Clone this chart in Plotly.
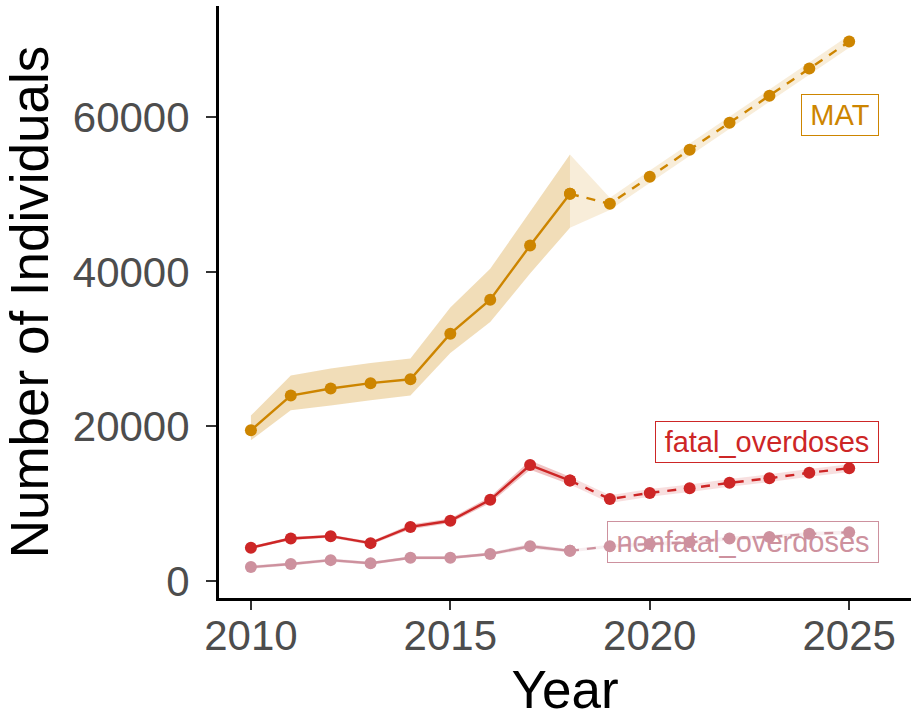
import plotly.graph_objects as go

# --- data ---
hist_years = [2010, 2011, 2012, 2013, 2014, 2015, 2016, 2017, 2018]
fc_years = [2018, 2019, 2020, 2021, 2022, 2023, 2024, 2025]

mat_hist = [19500, 24000, 24900, 25600, 26100, 32000, 36400, 43400, 50100]
mat_hist_lo = [18200, 22100, 22700, 23400, 24000, 29500, 33500, 39800, 45700]
mat_hist_hi = [21400, 26600, 27500, 28200, 28800, 35400, 40400, 47800, 55200]
mat_fc = [50100, 48800, 52300, 55800, 59300, 62800, 66300, 69800]
mat_fc_lo = [45700, 48000, 51500, 55000, 58500, 62000, 65500, 69000]
mat_fc_hi = [55200, 49600, 53100, 56600, 60100, 63600, 67100, 70600]

fatal_hist = [4300, 5500, 5800, 4900, 7000, 7800, 10500, 15000, 13000]
fatal_hist_lo = [4100, 5300, 5600, 4700, 6700, 7500, 10100, 14400, 12500]
fatal_hist_hi = [4500, 5700, 6000, 5100, 7300, 8100, 10900, 15600, 13500]
fatal_fc = [13000, 10600, 11400, 12000, 12700, 13300, 14000, 14600]
fatal_fc_lo = [12500, 10100, 10900, 11500, 12200, 12800, 13500, 14100]
fatal_fc_hi = [13500, 11100, 11900, 12500, 13200, 13800, 14500, 15100]

nonfatal_hist = [1800, 2200, 2700, 2300, 3000, 3000, 3500, 4500, 3900]
nonfatal_hist_lo = [1600, 2000, 2500, 2100, 2800, 2800, 3300, 4200, 3700]
nonfatal_hist_hi = [2000, 2400, 2900, 2500, 3200, 3200, 3700, 4800, 4100]
nonfatal_fc = [3900, 4500, 4800, 5000, 5500, 5700, 6100, 6300]
nonfatal_fc_lo = [3700, 4300, 4550, 4750, 5250, 5450, 5850, 6050]
nonfatal_fc_hi = [4100, 4700, 5050, 5250, 5750, 5950, 6350, 6550]

# name, colour, rgb, label y, label box width
series = [
    ("MAT", "#CD8500", (205, 133, 0), 60300, 68,
     mat_hist, mat_hist_lo, mat_hist_hi, mat_fc, mat_fc_lo, mat_fc_hi),
    ("fatal_overdoses", "#CD2626", (205, 38, 38), 17950, 214,
     fatal_hist, fatal_hist_lo, fatal_hist_hi, fatal_fc, fatal_fc_lo, fatal_fc_hi),
    ("nonfatal_overdoses", "#CD919E", (205, 145, 158), 5050, 262,
     nonfatal_hist, nonfatal_hist_lo, nonfatal_hist_hi, nonfatal_fc, nonfatal_fc_lo, nonfatal_fc_hi),
]

FONT = "Liberation Sans, Arial, sans-serif"

fig = go.Figure()

# ribbons first
for name, col, rgb, _, _, h, hlo, hhi, f, flo, fhi in series:
    fig.add_trace(go.Scatter(
        x=hist_years + hist_years[::-1], y=hhi + hlo[::-1],
        fill="toself", fillcolor=f"rgba({rgb[0]},{rgb[1]},{rgb[2]},0.28)",
        line=dict(width=0), mode="lines", hoverinfo="skip", showlegend=False))
    fig.add_trace(go.Scatter(
        x=fc_years + fc_years[::-1], y=fhi + flo[::-1],
        fill="toself", fillcolor=f"rgba({rgb[0]},{rgb[1]},{rgb[2]},0.15)",
        line=dict(width=0), mode="lines", hoverinfo="skip", showlegend=False))

# lines and points
for name, col, rgb, _, _, h, hlo, hhi, f, flo, fhi in series:
    fig.add_trace(go.Scatter(
        x=hist_years, y=h, mode="lines+markers", name=name,
        line=dict(color=col, width=2.4),
        marker=dict(color=col, size=12), showlegend=False))
    fig.add_trace(go.Scatter(
        x=fc_years, y=f, mode="lines+markers", name=name + " forecast",
        line=dict(color=col, width=2.4, dash="9px,8px"),
        marker=dict(color=col, size=12), showlegend=False))

# labels
for name, col, rgb, ylab, w, *_ in series:
    fig.add_annotation(
        x=2025.75, y=ylab, xref="x", yref="y", text=name, showarrow=False,
        xanchor="right", yanchor="middle", width=w, align="center",
        font=dict(family=FONT, size=29, color=col),
        bgcolor="rgba(255,255,255,0)", bordercolor=col, borderwidth=1,
        borderpad=4)

fig.update_layout(
    width=911, height=719,
    margin=dict(l=219, r=0, t=6, b=121),
    plot_bgcolor="white", paper_bgcolor="white",
    font=dict(family=FONT),
    showlegend=False,
)

fig.update_xaxes(
    range=[2009.2, 2026.55], tickvals=[2010, 2015, 2020, 2025],
    showgrid=False, zeroline=False,
    showline=True, linecolor="black", linewidth=3,
    ticks="outside", ticklen=9, tickwidth=2, tickcolor="#333333",
    ticklabelstandoff=-10,
    tickfont=dict(family=FONT, size=42, color="#4D4D4D"),
    title=dict(text="Year", font=dict(family=FONT, size=53, color="black"), standoff=16),
    automargin=False,
)
fig.update_yaxes(
    range=[-2200, 74400], tickvals=[0, 20000, 40000, 60000],
    ticktext=["0", "20000", "40000", "60000"],
    showgrid=False, zeroline=False,
    showline=True, linecolor="black", linewidth=3,
    ticks="outside", ticklen=10, tickwidth=2, tickcolor="#333333",
    ticklabelstandoff=8,
    tickfont=dict(family=FONT, size=42, color="#4D4D4D"),
    title=dict(text="Number of Individuals", font=dict(family=FONT, size=53, color="black"), standoff=26),
    automargin=False,
)

# page body has a default 8px margin; drop it so the figure sits at the corner
fig.write_html("out.html", config={"displayModeBar": False},
               post_script="document.body.style.margin='0';")
